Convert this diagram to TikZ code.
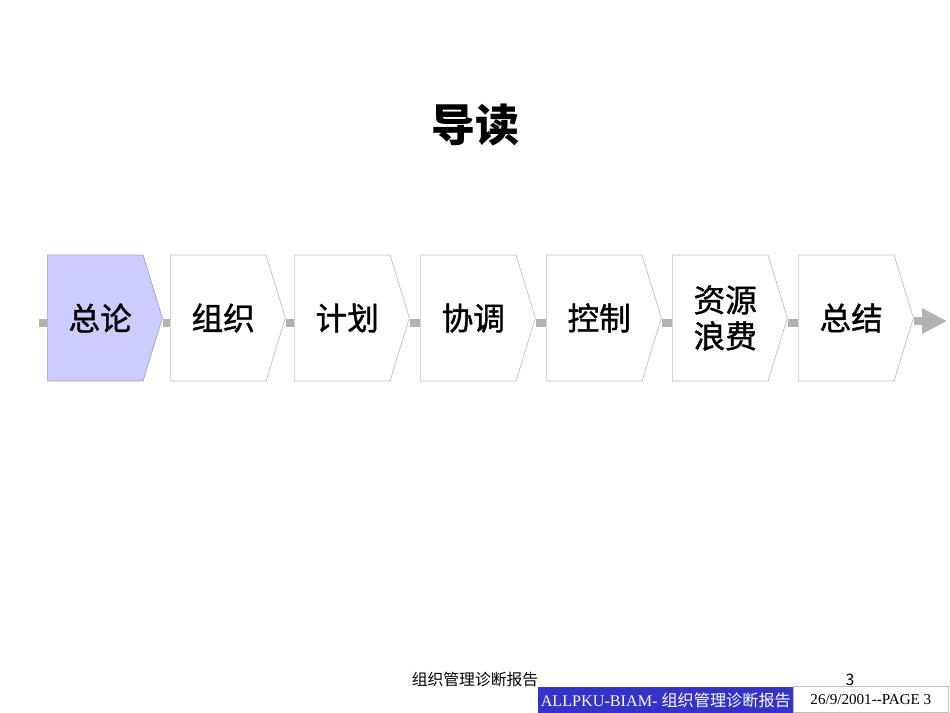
\documentclass[tikz,border=0pt]{standalone}
\usepackage{fontspec}
\setmainfont{Liberation Serif}
\newfontfamily\cjk{Noto Sans CJK SC}
\newfontfamily\cjkheavy{Noto Sans CJK SC}[FakeBold=1.2]
\usetikzlibrary{positioning}
\usetikzlibrary{shapes.symbols}
\usetikzlibrary{arrows.meta}
\definecolor{lavender}{RGB}{204,204,255}
\definecolor{lavline}{RGB}{160,160,210}
\definecolor{boxline}{RGB}{192,192,192}
\definecolor{bargray}{RGB}{178,178,178}
\definecolor{footblue}{RGB}{51,51,204}

\begin{document}
\begin{tikzpicture}[x=0.02cm,y=-0.02cm,
    stage/.style={signal,signal to=east,signal from=nowhere,signal pointer angle=146,
        draw=boxline,line width=0.4pt,fill=white,minimum width=2.3cm,minimum height=2.52cm,
        inner sep=0pt,align=center,font=\cjkheavy\fontsize{18}{20.5}\selectfont},
    bar/.style={bargray,line width=0.16cm}]
\useasboundingbox (0,0) rectangle (950,713);

    % title
	\node[font=\cjk\bfseries\fontsize{25}{28}\selectfont] (title) at (475,125) {导读};

    % stages
	\node[stage,anchor=west,fill=lavender,draw=lavline] (box1) at (47,318) {\hspace*{0.2cm}总论};
	\foreach \i/\x/\t in {2/170/组织,3/294/计划,4/420/协调,5/546/控制,6/672/{资源\\\hspace*{0.2cm}浪费},7/798/总结}
		\node[stage,anchor=west] (box\i) at (\x,318) {\hspace*{0.2cm}\t};

    % connectors
	\coordinate (start) at (39,318);
	\coordinate (end) at (947,318);
	\draw[bar] ([yshift=-0.1cm]start) -- ([yshift=-0.1cm]box1.west);
	\foreach \i in {1,...,6}
		\draw[bar] ([yshift=-0.1cm]box\i.east) -- ([yshift=-0.1cm]box\the\numexpr\i+1\relax.west);
	\draw[bar,-{Triangle[length=0.5cm,width=0.48cm]}] ([yshift=-0.06cm]box7.east) -- ([yshift=-0.06cm]end);

    % footer
	\node[font=\cjk\fontsize{9}{10}\selectfont] (caption) at (475,680) {组织管理诊断报告};
	\node[font=\cjk\fontsize{9}{10}\selectfont] (pageno) at (850,680) {3};
	\node[fill=footblue,text=white,anchor=north west,inner sep=0pt,minimum width=5.1cm,minimum height=0.52cm,
		font=\fontsize{9.2}{10}\selectfont] (tagline) at (538,687) {ALLPKU-BIAM- {\cjk 组织管理诊断报告}};
	\node[draw=boxline,line width=0.4pt,anchor=north west,inner sep=0pt,minimum width=3.1cm,minimum height=0.52cm,
		font=\fontsize{8.6}{10}\selectfont] (pagebox) at (793,686) {26/9/2001\mbox{-}\mbox{-}PAGE 3};
\end{tikzpicture}
\end{document}
